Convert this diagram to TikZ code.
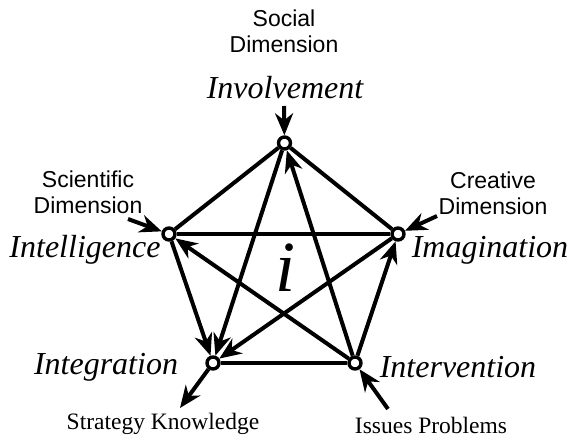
\documentclass[tikz,border=0pt]{standalone}
\usepackage{fontspec}
\setmainfont{Liberation Serif}
\setsansfont{Liberation Sans}
\usetikzlibrary{arrows.meta}
\begin{document}
\begin{tikzpicture}[x=1pt,y=-1pt,
  vtx/.style={circle,draw,fill=white,line width=3.4pt,minimum size=12pt,inner sep=0pt},
  ln/.style={line width=4pt},
  arr/.style={line width=4pt,-{Stealth[length=22pt,width=18pt,inset=7pt]}},
  big/.style={font=\fontsize{32}{34}\selectfont\itshape,inner sep=0pt},
  dim/.style={font=\fontsize{23}{26}\selectfont\sffamily,align=center,inner sep=0pt},
  foot/.style={font=\fontsize{23.5}{25}\selectfont,inner sep=0pt}]
\useasboundingbox (0,0) rectangle (572,439);
\node[vtx] (T) at (284.5,143) {};
\node[vtx] (L) at (169,234) {};
\node[vtx] (R) at (398,234) {};
\node[vtx] (BL) at (213,363) {};
\node[vtx] (BR) at (355,363) {};
% pentagon and star
\draw[ln] (T) -- (L);
\draw[ln] (T) -- (R);
\draw[ln] (L) -- (R);
\draw[ln] (BL) -- (BR);
\draw[arr] (L) -- (BL);
\draw[arr] (T) -- (BL);
\draw[arr] (R) -- (BL);
\draw[arr] (BR) -- (T);
\draw[arr] (BR) -- (L);
\draw[arr] (BR) -- (R);
% centre letter
\node[font=\fontsize{72}{72}\selectfont\itshape,inner sep=0pt] (ii) at (285,268) {i};
% labels
\node[dim] (soc) at (284,31) {Social\\Dimension};
\node[big] (inv) at (285,88) {Involvement};
\coordinate (invs) at (284,106);
\draw[arr] (invs) -- (T);
\node[dim] (sci) at (88,192) {Scientific\\Dimension};
\node[big] (intl) at (85,250) {Intelligence};
\coordinate (scis) at (128,219);
\draw[arr] (scis) -- (L);
\node[dim] (cre) at (493,193) {Creative\\Dimension};
\node[big] (ima) at (490,250) {Imagination};
\coordinate (cres) at (437,216);
\draw[arr] (cres) -- (R);
\node[big] (intg) at (106,367) {Integration};
\node[big] (intv) at (458,367) {Intervention};
\coordinate (ske) at (180,408);
\draw[arr] (BL) -- (ske);
\node[foot] (sk) at (163,424) {Strategy Knowledge};
\coordinate (iss) at (388,409);
\draw[arr] (iss) -- (BR);
\node[foot] (ip) at (431,425) {Issues Problems};
\end{tikzpicture}
\end{document}
